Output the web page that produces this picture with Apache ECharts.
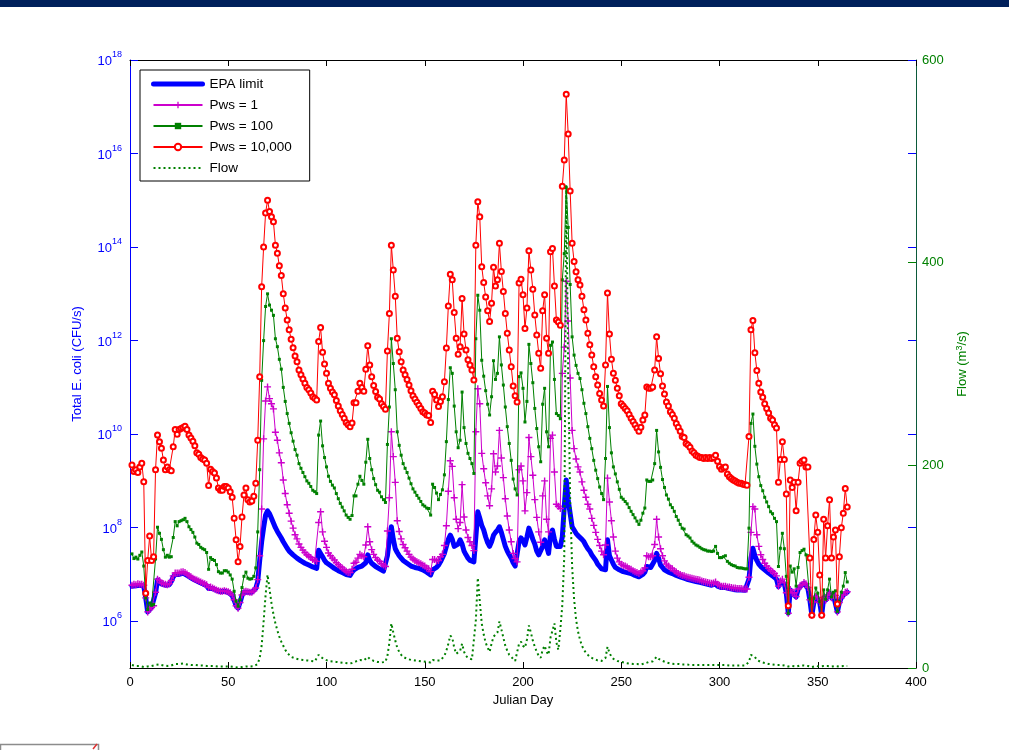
<!DOCTYPE html>
<html>
<head>
<meta charset="utf-8">
<script src="https://cdn.jsdelivr.net/npm/echarts@6/dist/echarts.min.js"></script>
<style>
  html, body { margin: 0; padding: 0; background: #ffffff; }
  #chart { width: 1009px; height: 750px; }
</style>
</head>
<body>
<div id="chart"></div>
<script>
// Daily series for Julian days 1..365.
// E. coli loads are stored as log10(CFU/s); flow is in m^3/s.
const FIRST_DAY = 1;

const epaLimit = [
  6.75,6.77,6.76,6.78,6.77,6.77,6.75,6.5,6.2,6.25,
  6.3,6.32,6.6,6.88,6.85,6.8,6.78,6.77,6.76,6.78,
  6.85,6.95,7.0,7.01,7.0,7.02,7.03,7.01,6.98,6.96,
  6.93,6.9,6.88,6.86,6.84,6.82,6.8,6.78,6.76,6.7,
  6.72,6.7,6.68,6.66,6.64,6.63,6.63,6.64,6.63,6.62,
  6.6,6.55,6.45,6.33,6.28,6.4,6.55,6.62,6.63,6.62,
  6.62,6.62,6.64,6.7,6.85,7.3,7.7,8.0,8.27,8.36,
  8.3,8.2,8.1,8.0,7.92,7.85,7.78,7.7,7.63,7.56,
  7.5,7.46,7.42,7.38,7.35,7.32,7.29,7.26,7.24,7.22,
  7.2,7.18,7.16,7.14,7.13,7.52,7.45,7.38,7.3,7.25,
  7.22,7.19,7.16,7.13,7.1,7.08,7.06,7.04,7.02,7.0,
  6.97,6.98,7.05,7.1,7.13,7.15,7.17,7.18,7.2,7.25,
  7.42,7.3,7.24,7.2,7.17,7.14,7.12,7.1,7.07,7.06,
  7.4,7.75,8.02,7.75,7.55,7.47,7.4,7.35,7.3,7.27,
  7.24,7.2,7.18,7.17,7.15,7.14,7.13,7.12,7.1,7.08,
  7.05,7.02,6.99,7.1,7.14,7.15,7.2,7.27,7.31,7.45,
  7.6,7.75,7.84,7.75,7.6,7.57,7.65,7.74,7.65,7.5,
  7.42,7.35,7.3,7.27,7.27,7.8,8.34,8.2,8.05,7.95,
  7.8,7.68,7.6,7.7,7.84,7.9,7.95,8.02,7.9,7.75,
  7.6,7.5,7.42,7.35,7.25,7.18,7.14,7.7,7.78,7.72,
  7.63,7.8,7.99,7.88,7.75,7.65,7.5,7.42,7.38,7.6,
  7.74,7.6,7.45,7.85,7.95,7.75,7.6,7.57,7.6,7.8,
  8.45,9.02,8.59,8.3,8.02,7.95,7.88,7.83,7.8,7.75,
  7.7,7.62,7.55,7.5,7.42,7.38,7.3,7.22,7.17,7.12,
  7.08,7.1,7.74,7.4,7.31,7.22,7.15,7.12,7.1,7.08,
  7.06,7.05,7.04,7.03,7.02,7.0,6.98,6.97,6.95,6.97,
  7.0,7.05,7.17,7.15,7.15,7.18,7.3,7.45,7.35,7.2,
  7.15,7.1,7.07,7.05,7.03,7.02,7.0,6.98,6.96,6.95,
  6.93,6.92,6.9,6.89,6.88,6.87,6.86,6.85,6.84,6.83,
  6.82,6.81,6.8,6.79,6.78,6.77,6.78,6.8,6.75,6.73,
  6.72,6.72,6.72,6.7,6.7,6.69,6.68,6.68,6.67,6.67,
  6.67,6.66,6.66,6.66,6.9,7.35,7.56,7.4,7.3,7.22,
  7.17,7.13,7.1,7.06,7.03,7.0,6.97,6.95,6.9,6.74,
  6.84,6.88,6.8,6.6,6.17,6.67,6.6,6.6,6.52,6.68,
  6.74,6.76,6.81,6.78,6.7,6.45,6.13,6.4,6.52,6.5,
  6.4,6.13,6.5,6.45,6.55,6.6,6.5,6.55,6.55,6.2,
  6.4,6.5,6.56,6.6,6.62
];

const pws1 = [
  6.77,6.79,6.78,6.8,6.79,6.79,6.77,6.5,6.2,6.25,
  6.3,6.33,6.62,6.9,6.87,6.82,6.8,6.79,6.78,6.8,
  6.87,6.97,7.03,7.03,7.03,7.05,7.06,7.04,7.01,6.98,
  6.95,6.92,6.9,6.88,6.86,6.84,6.82,6.8,6.78,6.72,
  6.73,6.71,6.69,6.67,6.65,6.64,6.64,6.65,6.64,6.63,
  6.61,6.56,6.46,6.33,6.28,6.4,6.56,6.63,6.64,6.63,
  6.62,6.62,6.65,6.71,6.89,7.4,8.4,9.9,10.71,11.01,
  10.76,10.65,10.54,10.04,9.87,9.6,9.39,9.02,8.73,8.49,
  8.31,8.14,7.99,7.85,7.76,7.65,7.58,7.52,7.47,7.42,
  7.39,7.36,7.32,7.3,7.28,8.11,8.34,7.91,7.71,7.58,
  7.46,7.4,7.35,7.31,7.25,7.21,7.17,7.14,7.1,7.07,
  7.04,7.04,7.11,7.24,7.26,7.35,7.43,7.4,7.38,7.63,
  8.02,7.7,7.53,7.43,7.36,7.31,7.28,7.23,7.2,7.17,
  7.93,8.64,10.05,9.52,8.97,8.15,7.92,7.76,7.64,7.57,
  7.5,7.43,7.37,7.33,7.3,7.27,7.25,7.23,7.2,7.18,
  7.14,7.12,7.06,7.32,7.32,7.29,7.3,7.38,7.43,7.62,
  8.04,8.78,9.43,9.31,8.64,8.18,7.98,8.11,8.92,8.23,
  7.95,7.79,7.7,7.62,7.51,10.05,10.97,10.65,9.59,9.26,
  8.96,8.68,8.47,8.83,9.58,9.19,9.32,10.08,9.49,9.07,
  8.62,8.25,7.95,7.7,7.45,7.34,7.27,9.24,9.32,9.0,
  8.36,8.75,9.93,9.52,9.12,8.6,8.22,7.91,7.69,8.68,
  9.0,8.18,7.91,9.91,9.98,9.19,8.5,8.46,8.41,11.3,
  11.86,13.27,12.42,11.2,10.08,9.69,9.47,9.3,9.19,8.98,
  8.8,8.65,8.5,8.4,8.2,8.05,7.9,7.75,7.62,7.5,
  7.42,7.63,9.06,8.55,8.15,7.8,7.5,7.35,7.27,7.22,
  7.19,7.18,7.16,7.13,7.11,7.08,7.06,7.04,7.02,7.05,
  7.08,7.14,7.4,7.38,7.38,7.4,7.64,8.18,7.8,7.55,
  7.4,7.29,7.22,7.18,7.14,7.12,7.08,7.05,7.02,7.0,
  6.98,6.97,6.95,6.94,6.93,6.92,6.91,6.9,6.89,6.88,
  6.86,6.85,6.84,6.83,6.82,6.81,6.82,6.84,6.79,6.77,
  6.75,6.75,6.75,6.73,6.73,6.72,6.71,6.71,6.7,6.7,
  6.7,6.69,6.69,6.69,6.94,7.9,8.45,8.4,7.85,7.6,
  7.42,7.32,7.24,7.18,7.13,7.09,7.06,7.02,6.97,6.75,
  6.86,6.9,6.82,6.61,6.17,6.68,6.61,6.61,6.53,6.69,
  6.76,6.78,6.83,6.8,6.72,6.46,6.13,6.41,6.53,6.51,
  6.4,6.13,6.5,6.45,6.55,6.61,6.5,6.55,6.55,6.2,
  6.4,6.5,6.56,6.62,6.63
];

const pws100 = [
  7.44,7.34,7.37,7.33,7.41,7.48,7.18,6.5,6.25,6.39,
  6.34,6.36,7.33,8.01,7.88,7.75,7.53,7.37,7.41,7.37,
  7.38,7.79,8.13,8.04,8.13,8.15,8.17,8.2,8.13,8.02,
  7.96,7.9,7.8,7.67,7.64,7.58,7.55,7.53,7.47,7.11,
  7.36,7.32,7.3,7.21,7.06,7.03,7.03,7.08,7.08,7.05,
  6.99,6.9,6.64,6.43,6.32,6.46,6.72,6.96,7.05,6.92,
  6.9,6.91,6.96,7.14,7.91,9.24,11.15,12.0,12.73,13.0,
  12.76,12.65,12.54,12.04,11.87,11.6,11.39,11.0,10.7,10.44,
  10.23,10.03,9.85,9.67,9.55,9.37,9.27,9.18,9.09,9.0,
  8.95,8.88,8.8,8.77,8.73,9.98,10.28,9.75,9.5,9.3,
  9.1,8.99,8.91,8.85,8.73,8.62,8.52,8.44,8.36,8.27,
  8.22,8.18,8.26,8.68,8.68,8.93,9.1,9.01,8.93,9.4,
  9.89,9.48,9.24,9.05,8.92,8.8,8.76,8.66,8.6,8.54,
  9.78,10.58,12.04,11.51,10.95,10.05,9.76,9.55,9.37,9.27,
  9.18,9.06,8.94,8.83,8.76,8.69,8.63,8.56,8.49,8.46,
  8.42,8.41,8.27,8.93,8.86,8.74,8.6,8.71,8.81,9.13,
  9.84,10.74,11.42,11.3,10.6,10.05,9.71,9.87,10.9,10.14,
  9.8,9.59,9.48,9.37,9.16,12.04,12.97,12.65,11.58,11.24,
  10.93,10.64,10.41,10.8,11.57,11.17,11.3,12.08,11.48,11.05,
  10.58,10.16,9.8,9.44,9.04,8.83,8.7,11.23,11.31,10.98,
  10.26,10.7,11.92,11.51,11.1,10.55,10.12,9.73,9.41,10.64,
  10.98,10.05,9.73,11.9,11.97,11.17,10.44,10.4,10.33,13.3,
  13.86,15.27,14.42,13.2,12.08,11.69,11.47,11.3,11.19,10.95,
  10.66,10.44,10.16,9.91,9.69,9.44,9.23,9.05,8.87,8.73,
  8.6,9.48,11.02,10.14,9.6,9.3,9.15,8.98,8.82,8.65,
  8.61,8.56,8.51,8.43,8.35,8.28,8.21,8.14,8.07,8.16,
  8.31,8.42,9.02,8.99,8.99,9.02,9.37,10.08,9.62,9.29,
  9.03,8.86,8.7,8.61,8.49,8.43,8.35,8.24,8.16,8.07,
  7.99,7.97,7.85,7.82,7.78,7.71,7.67,7.63,7.61,7.58,
  7.55,7.53,7.52,7.5,7.5,7.49,7.5,7.6,7.45,7.36,
  7.36,7.38,7.4,7.28,7.24,7.21,7.19,7.18,7.15,7.14,
  7.14,7.13,7.12,7.12,7.99,10.23,10.43,9.74,9.36,9.09,
  8.9,8.79,8.65,8.55,8.45,8.34,8.3,8.2,8.13,7.17,
  7.56,7.88,7.55,6.96,6.17,7.18,7.05,7.12,6.75,7.15,
  7.47,7.51,7.54,7.42,7.4,6.48,6.13,6.49,6.71,6.6,
  6.42,6.13,6.67,6.47,6.67,6.9,6.52,6.62,6.65,6.21,
  6.42,6.62,6.75,7.04,6.84
];

const pws10000 = [
  9.34,9.2,9.24,9.18,9.3,9.38,8.98,6.6,7.3,7.82,
  7.3,7.38,9.24,9.98,9.84,9.7,9.45,9.24,9.3,9.24,
  9.22,9.73,10.1,10.0,10.1,10.12,10.14,10.17,10.1,9.98,
  9.92,9.85,9.75,9.6,9.57,9.5,9.47,9.45,9.38,8.9,
  9.25,9.2,9.17,9.06,8.85,8.8,8.8,8.88,8.88,8.85,
  8.77,8.65,8.2,7.74,7.27,7.6,8.23,8.7,8.85,8.6,
  8.55,8.57,8.67,8.95,9.87,11.23,13.15,14.0,14.73,15.0,
  14.76,14.65,14.54,14.04,13.87,13.6,13.39,13.0,12.7,12.44,
  12.23,12.03,11.85,11.67,11.55,11.37,11.27,11.18,11.09,11.0,
  10.95,10.88,10.8,10.77,10.73,11.98,12.28,11.75,11.5,11.3,
  11.09,10.98,10.9,10.84,10.72,10.6,10.5,10.42,10.34,10.25,
  10.2,10.16,10.24,10.67,10.67,10.92,11.09,11.0,10.92,11.39,
  11.89,11.48,11.23,11.04,10.91,10.79,10.75,10.65,10.59,10.53,
  11.78,12.58,14.04,13.51,12.95,12.05,11.76,11.55,11.37,11.27,
  11.17,11.05,10.93,10.82,10.75,10.68,10.62,10.55,10.48,10.45,
  10.41,10.4,10.25,10.92,10.85,10.73,10.59,10.7,10.8,11.12,
  11.84,12.74,13.42,13.3,12.6,12.05,11.71,11.87,12.9,12.14,
  11.8,11.59,11.48,11.37,11.16,14.04,14.97,14.65,13.58,13.24,
  12.93,12.64,12.41,12.8,13.57,13.17,13.3,14.08,13.48,13.05,
  12.58,12.16,11.8,11.44,11.03,10.82,10.69,13.23,13.31,12.98,
  12.26,12.7,13.92,13.51,13.1,12.55,12.12,11.73,11.41,12.64,
  12.98,12.05,11.73,13.9,13.97,13.17,12.44,12.4,12.33,15.3,
  15.86,17.27,16.42,15.2,14.08,13.69,13.47,13.3,13.19,12.95,
  12.66,12.44,12.16,11.91,11.69,11.44,11.23,11.05,10.87,10.73,
  10.6,11.48,13.02,12.14,11.6,11.3,11.15,10.98,10.82,10.65,
  10.6,10.55,10.5,10.42,10.34,10.27,10.2,10.13,10.06,10.15,
  10.3,10.41,11.01,10.98,10.98,11.01,11.37,12.08,11.62,11.29,
  11.03,10.86,10.69,10.6,10.48,10.42,10.34,10.23,10.15,10.06,
  9.95,9.93,9.8,9.77,9.72,9.64,9.6,9.55,9.53,9.5,
  9.5,9.48,9.5,9.48,9.5,9.48,9.5,9.55,9.42,9.31,
  9.25,9.28,9.3,9.15,9.09,9.05,9.02,9.0,8.97,8.95,
  8.95,8.93,8.92,8.91,9.95,12.23,12.43,11.74,11.36,11.09,
  10.9,10.79,10.65,10.55,10.45,10.34,10.3,10.2,10.13,8.97,
  9.46,9.84,9.46,8.72,6.33,9.02,8.86,8.97,8.36,8.97,
  9.38,9.42,9.45,9.3,9.3,7.35,6.13,7.75,8.27,7.9,
  6.99,6.13,8.18,7.35,8.04,8.6,7.35,7.8,7.95,6.37,
  7.38,8.0,8.31,8.84,8.44
];

const flow = [
  3,2.5,2,1.5,2,1.5,1,1,1.5,2,
  2,1.5,3,4,3.5,3,2.5,2.5,2,2,
  2.5,3,4,4.5,4,4,4.5,4,3.5,3.5,
  3,3,3,2.5,2.5,2.5,2.5,2,2,2,
  2,2,2,2,1.5,1.5,1.5,1.5,1.5,1.5,
  1.5,1.5,1,0.8,0.5,0.8,1,1.5,1.5,1.5,
  1.5,1.5,1.8,2,4,10,22,46,72,92,
  78,64,53,44,37,31,26,22,18,15,
  13,11,10,9.5,9,8.5,8,8,7.5,7.5,
  7,7,7,6.5,6.5,13,11,9.5,8.5,7.5,
  7,6.5,6.5,6,6,5.5,5.5,5,5,5,
  4.5,4.5,5,6,6.5,7,8,7.5,7.5,9,
  11,9,8,7,6.5,6,6,5.5,5.5,6,
  12,25,44,35,27,20,16,13,11,10,
  9,8.5,8,7.5,7.5,7,7,6.5,6.5,6,
  6,6,5.5,8,8,7.5,7,7.5,8.5,12,
  17,24,32,30,20,14,13,17,24,16,
  12,10,9,8.5,8,47,89,66,44,33,
  25,20,16,24,31,30,35,46,38,30,
  22,17,13,11,9,7,6.5,24,26,22,
  20,28,42,35,27,21,16,12,10,18,
  22,16,13,30,37,44,25,18,38,62,
  110,477,290,165,100,68,48,36,28,22,
  18,15,13,11,10,9,8,7.5,7,7,
  8,10,21,15,11,9,8,7,6.5,6,
  5.5,5,5,4.5,4.5,4,4,4,3.5,3.5,
  4,4.5,6,6,6,6.5,8,11,9,8,
  7,6,5.5,5,4.5,4.5,4,4,4,3.5,
  3.5,3.5,3.5,3.5,3,3,3,3,3,3,
  3,3,3,3,3,3,3,3.5,3,3,
  3,3,3,2.5,2.5,2.5,2.5,2.5,2.5,2.5,
  2.5,2.5,2.5,2.5,6,13,14,11,8,7,
  6,5.5,5,4.5,4,4,3.5,3.5,3,2.5,
  3,3,2.5,2,1.5,2,2,2,1.5,2,
  2.5,2.5,2.5,2.5,2,1.5,1,1.5,2,1.5,
  1.5,1,2,1.5,2,2,1.5,2,2,1,
  1.5,2,2,2,2
];

// Axis tick values
const xTickValues = [0, 50, 100, 150, 200, 250, 300, 350, 400];
const logTickValues = [6, 8, 10, 12, 14, 16, 18];
const flowTickValues = [0, 200, 400, 600];

const FONT = '"Liberation Sans", Arial, Helvetica, sans-serif';
const BLUE = '#0000ff';
const MAGENTA = '#cc00cc';
const GREEN = '#008000';
const RED = '#ff0000';
const PLUS = 'path://M4,0H6V4H10V6H6V10H4V6H0V4H4Z';

const toPoints = arr => arr.map((v, i) => [FIRST_DAY + i, v]);

const chart = echarts.init(document.getElementById('chart'), null, { renderer: 'canvas' });

const option = {
  animation: false,
  backgroundColor: '#ffffff',
  grid: { left: 130, right: 93, top: 60, bottom: 82, containLabel: false },
  legend: {
    orient: 'vertical',
    left: 140,
    top: 70,
    padding: [7, 18, 6, 11],
    itemGap: 7,
    itemWidth: 49,
    itemHeight: 8,
    backgroundColor: '#ffffff',
    borderColor: '#000000',
    borderWidth: 1,
    borderRadius: 0,
    textStyle: { fontFamily: FONT, fontSize: 13.5, color: '#000000', padding: [0, 0, 0, 2] },
    data: [
      { name: 'EPA limit', itemStyle: { opacity: 0 }, lineStyle: { width: 5 } },
      { name: 'Pws = 1' },
      { name: 'Pws = 100' },
      { name: 'Pws = 10,000' },
      { name: 'Flow', itemStyle: { opacity: 0 } }
    ]
  },
  xAxis: [
    {
      type: 'value', position: 'bottom', min: 0, max: 400, interval: 50,
      name: 'Julian Day', nameLocation: 'middle', nameGap: 25,
      nameTextStyle: { fontFamily: FONT, fontSize: 13, color: '#000000' },
      axisLine: { show: true, onZero: false, lineStyle: { color: '#000000', width: 1 } },
      axisTick: { show: true, inside: true, length: 6, customValues: xTickValues, lineStyle: { color: '#000000' } },
      axisLabel: { show: true, margin: 8, customValues: xTickValues, fontFamily: FONT, fontSize: 13, color: '#000000' },
      splitLine: { show: false }
    },
    {
      type: 'value', position: 'top', min: 0, max: 400, interval: 50,
      axisLine: { show: true, onZero: false, lineStyle: { color: '#000000', width: 1 } },
      axisTick: { show: true, inside: true, length: 6, customValues: xTickValues, lineStyle: { color: '#000000' } },
      axisLabel: { show: false },
      splitLine: { show: false }
    }
  ],
  yAxis: [
    {
      type: 'value', position: 'left', min: 5, max: 18,
      name: 'Total E. coli (CFU/s)', nameLocation: 'middle', nameGap: 46,
      nameTextStyle: { fontFamily: FONT, fontSize: 13, color: BLUE },
      axisLine: { show: true, onZero: false, lineStyle: { color: BLUE, width: 1 } },
      axisTick: { show: true, inside: true, length: 8, customValues: logTickValues, lineStyle: { color: BLUE } },
      axisLabel: {
        show: true, margin: 8, customValues: logTickValues,
        formatter: v => '{b|10}{s|' + v + '}',
        rich: {
          b: { fontFamily: FONT, fontSize: 13, color: BLUE, padding: [3, 0, 0, 0] },
          s: { fontFamily: FONT, fontSize: 9, color: BLUE, padding: [0, 0, 11, 0] }
        }
      },
      splitLine: { show: false }
    },
    {
      type: 'value', position: 'right', min: 0, max: 600, interval: 200,
      name: '{n|Flow (m}{s|3}{n|/s)}', nameLocation: 'middle', nameGap: 38,
      nameTextStyle: {
        color: GREEN,
        rich: {
          n: { fontFamily: FONT, fontSize: 13, color: GREEN },
          s: { fontFamily: FONT, fontSize: 9, color: GREEN, padding: [0, 0, 7, 0] }
        }
      },
      axisLine: { show: true, onZero: false, lineStyle: { color: '#0b5a3a', width: 1 } },
      axisTick: { show: true, inside: true, length: 8, customValues: flowTickValues, lineStyle: { color: GREEN } },
      axisLabel: { show: true, margin: 6, customValues: flowTickValues, fontFamily: FONT, fontSize: 13, color: GREEN },
      splitLine: { show: false }
    },
    {
      // mirrored decade ticks of the left axis on the right edge
      type: 'value', position: 'right', min: 5, max: 18,
      axisLine: { show: false, onZero: false },
      axisTick: { show: true, inside: true, length: 8, customValues: logTickValues, lineStyle: { color: BLUE } },
      axisLabel: { show: false },
      splitLine: { show: false }
    }
  ],
  series: [
    {
      name: 'EPA limit', type: 'line', xAxisIndex: 0, yAxisIndex: 0,
      data: toPoints(epaLimit), symbol: 'circle', showSymbol: false,
      lineStyle: { color: BLUE, width: 5, cap: 'round', join: 'round' },
      itemStyle: { color: BLUE }, z: 2
    },
    {
      name: 'Pws = 1', type: 'line', xAxisIndex: 0, yAxisIndex: 0,
      data: toPoints(pws1), symbol: PLUS, symbolSize: 7,
      lineStyle: { color: MAGENTA, width: 1 },
      itemStyle: { color: MAGENTA }, z: 3
    },
    {
      name: 'Pws = 100', type: 'line', xAxisIndex: 0, yAxisIndex: 0,
      data: toPoints(pws100), symbol: 'rect', symbolSize: 3,
      lineStyle: { color: GREEN, width: 1 },
      itemStyle: { color: GREEN }, z: 4
    },
    {
      name: 'Pws = 10,000', type: 'line', xAxisIndex: 0, yAxisIndex: 0,
      data: toPoints(pws10000), symbol: 'emptyCircle', symbolSize: 5,
      lineStyle: { color: RED, width: 1 },
      itemStyle: { color: RED, borderColor: RED, borderWidth: 1 }, z: 5
    },
    {
      name: 'Flow', type: 'line', xAxisIndex: 0, yAxisIndex: 1,
      data: toPoints(flow), symbol: 'circle', showSymbol: false,
      lineStyle: { color: GREEN, width: 2, type: [2, 3] },
      itemStyle: { color: GREEN }, z: 6
    }
  ],
  graphic: [
    { type: 'rect', left: 0, top: 0, shape: { width: 1009, height: 7 }, style: { fill: '#00205b' }, silent: true },
    { type: 'rect', left: -2, top: 742, shape: { width: 98, height: 12 }, style: { fill: 'none', stroke: '#8c8c8c', lineWidth: 1.5 }, silent: true },
    { type: 'line', shape: { x1: 93, y1: 749, x2: 97, y2: 744 }, style: { stroke: '#e03030', lineWidth: 1.5 }, silent: true }
  ]
};

chart.setOption(option);
</script>
</body>
</html>
